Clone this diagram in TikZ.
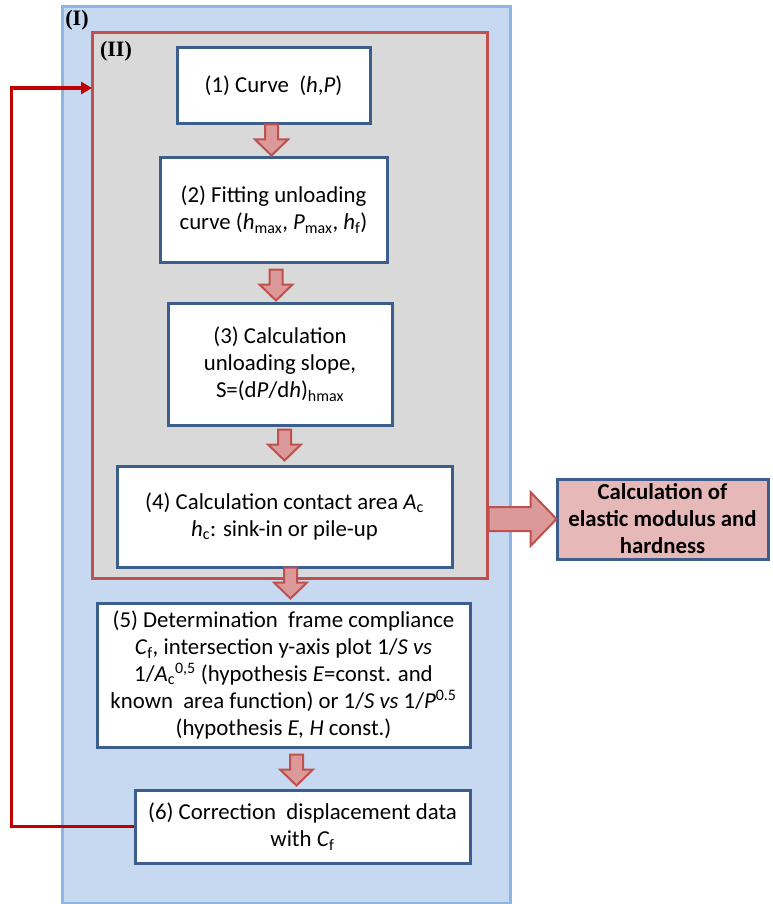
\documentclass[tikz,border=0pt]{standalone}
\usepackage{fontspec}
\setmainfont{Carlito}
\newfontfamily\romfont{Liberation Serif}
\usetikzlibrary{calc,positioning,arrows.meta}

\definecolor{frameblue}{HTML}{C6D9F1}
\definecolor{frameedge}{HTML}{8DB4E2}
\definecolor{innergray}{HTML}{D9D9D9}
\definecolor{rededge}{HTML}{C0504D}
\definecolor{boxedge}{HTML}{3B5E8C}
\definecolor{arrowfill}{HTML}{DB9A99}
\definecolor{calcfill}{HTML}{E6B9B8}
\definecolor{loopred}{HTML}{C00000}

\tikzset{
  stepbox/.style={draw=boxedge, line width=3pt, fill=white, align=center, inner sep=0pt,
    font=\fontsize{22.8}{27}\selectfont},
  resultbox/.style={stepbox, fill=calcfill, font=\fontsize{22.8}{27}\selectfont\bfseries},
  blockarr/.style={draw=rededge, fill=arrowfill, line width=2pt, line join=miter},
  romlabel/.style={inner sep=0pt, font=\romfont\bfseries\fontsize{22}{26}\selectfont},
  loopline/.style={draw=loopred, line width=3.5pt, -{Triangle[length=11pt,width=12pt]}}
}

\newcommand{\dnarrow}[1]{\draw[blockarr] (#1) -- ++(-16.5,-16) -- ++(10,0) -- ++(0,-15) -- ++(13,0) -- ++(0,15) -- ++(10,0) -- cycle;}

\begin{document}
\begin{tikzpicture}[x=1pt,y=-1pt]
\useasboundingbox (0,0) rectangle (772,904);

\node[draw=frameedge, fill=frameblue, line width=3pt, minimum width=448, minimum height=896, inner sep=0pt] (frameI) at (286,455) {};
\node[draw=rededge, fill=innergray, line width=3pt, minimum width=395, minimum height=545, inner sep=0pt] (frameII) at (289.5,305.5) {};
\node[romlabel] (labI) at (77,20) {(I)};
\node[romlabel] (labII) at (116,51) {(II)};

\node[stepbox, minimum width=193, minimum height=76] (box1) at (273.5,86) {(1) Curve\ \ (\textit{h},\textit{P})};
\node[stepbox, minimum width=227, minimum height=104] (box2) at (273.5,210)
  {(2) Fitting unloading\\ curve (\textit{h}\textsubscript{max}, \textit{P}\textsubscript{max}, \textit{h}\textsubscript{f})};
\node[stepbox, minimum width=224, minimum height=122] (box3) at (280,364)
  {(3) Calculation\\ unloading slope,\\ S=(d\textit{P}/d\textit{h})\textsubscript{hmax}};
\node[stepbox, minimum width=335, minimum height=101] (box4) at (284.5,516.5)
  {(4) Calculation contact area \textit{A}\textsubscript{c}\\ \textit{h}\textsubscript{c}: sink-in or pile-up};
\node[stepbox, minimum width=373, minimum height=144] (box5) at (283.5,675)
  {(5) Determination\ \ frame compliance\\
   \textit{C}\textsubscript{f}, intersection y-axis plot 1/\textit{S vs}\\
   1/\textit{A}\textsubscript{c}\textsuperscript{0,5} (hypothesis \textit{E}=const. and\\
   known\ \ area function)\ or 1/\textit{S vs} 1/\textit{P}\textsuperscript{0.5}\\
   (hypothesis \textit{E, H} const.)};
\node[stepbox, minimum width=335, minimum height=73] (box6) at (302.5,826.5)
  {(6) Correction\ \ displacement data\\ with \textit{C}\textsubscript{f}};
\node[resultbox, minimum width=211, minimum height=80] (calc) at (662.5,519)
  {Calculation of\\ elastic modulus and\\ hardness};

\dnarrow{$(box2.north)+(-2,-1)$}
\dnarrow{$(box3.north)+(-4,-1)$}
\dnarrow{$(box4.north)+(0,-4)$}
\dnarrow{$(box5.north)+(7,-3)$}
\dnarrow{$(box6.north)+(-6,-3)$}

\draw[blockarr] ($(frameII.east |- calc.west)+(0,-12)$) -- ++(42,0) -- ++(0,-15) -- ++(26,27) -- ++(-26,27) -- ++(0,-15) -- ++(-42,0) -- cycle;

\coordinate (entry) at (92,88);
\draw[loopline] (box6.west) -- ++(-122,0) |- (entry);

\end{tikzpicture}
\end{document}
